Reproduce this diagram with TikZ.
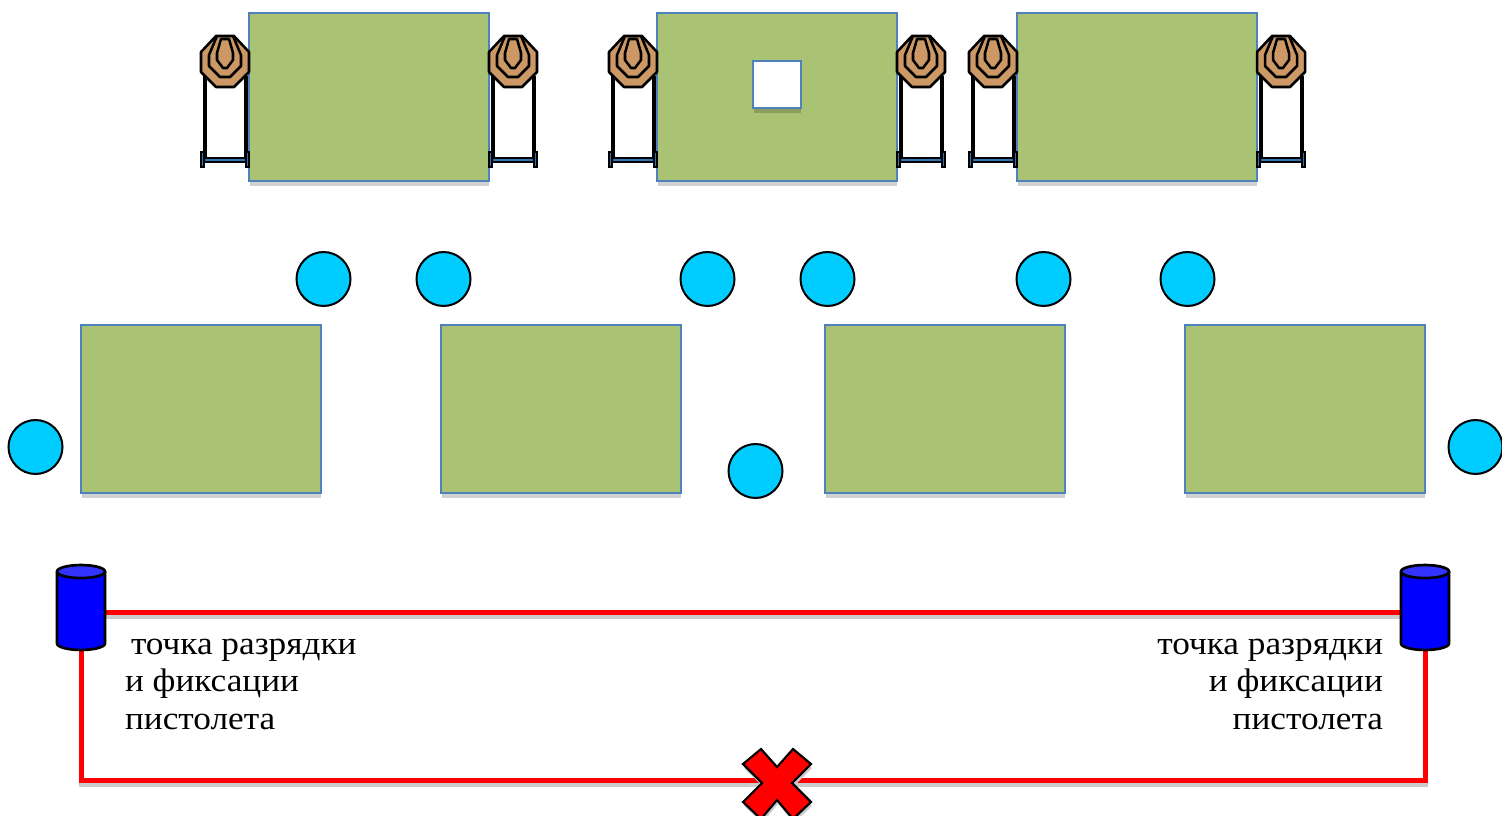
\documentclass[tikz,border=0pt]{standalone}
\usepackage{fontspec}
\setmainfont[FakeStretch=1.08]{Liberation Serif}
\definecolor{padgreen}{HTML}{A9C274}
\definecolor{padblue}{HTML}{4F81BD}
\definecolor{dotblue}{HTML}{00CCFF}
\definecolor{tan1}{HTML}{CC9966}
\definecolor{drumtop}{HTML}{3333FF}
\definecolor{basesteel}{HTML}{2E75B6}
\tikzset{
  x=.75pt,y=-.75pt,
  padbox/.style={rectangle,draw=padblue,line width=1.4pt,fill=padgreen,inner sep=0pt,outer sep=0pt,
    minimum width=180pt,minimum height=126pt},
  windowbox/.style={rectangle,draw=padblue,line width=1.4pt,fill=white,inner sep=0pt,outer sep=0pt,
    minimum width=36pt,minimum height=35.25pt},
  shade strip/.style={fill=black,fill opacity=.18},
  dot/.style={circle,draw=black,line width=1.5pt,fill=dotblue,inner sep=0pt,outer sep=0pt,minimum size=40.5pt},
  drumbox/.style={rectangle,inner sep=0pt,outer sep=0pt,minimum width=36pt,minimum height=63.75pt},
  drumline/.style={draw=black,line width=2pt,line join=round},
  rope/.style={draw=red,line width=3.75pt,line join=miter,
    preaction={draw=black!20,line width=3.75pt,transform canvas={yshift=-3.2pt}}},
  lbl/.style={inner sep=0pt,outer sep=0pt,font=\fontsize{24.5}{28.1}\selectfont},
  ink/.style={draw=black,line width=1.9pt,line join=round},
  post/.style={draw=black,line width=3pt},
  target/.pic={
    % legs
    \draw[post] (3.5,40) -- (3.5,125);
    \draw[post] (44.5,40) -- (44.5,125);
    % base
    \draw[black,line width=4.4pt] (1,124) -- (47,124);
    \draw[basesteel,line width=1.3pt] (1,124) -- (47,124);
    \fill[black] (-1,115) rectangle (4,132);
    \fill[black] (44,115) rectangle (49,132);
    \draw[basesteel,line width=1.1pt] (1.5,117) -- (1.5,130);
    \draw[basesteel,line width=1.1pt] (46.5,117) -- (46.5,130);
    % plate
    \draw[ink,fill=tan1] (15,0) -- (33,0) -- (48,16) -- (48,36) -- (33,51) -- (15,51) -- (0,36) -- (0,16) -- cycle;
    \draw[ink] (16,0) -- (8,19) -- (8,30) -- (19,41) -- (29,41) -- (40,30) -- (40,19) -- (32,0);
    \draw[ink] (20,3) -- (16,17) -- (16,24) -- (22,32) -- (26,32) -- (32,24) -- (32,17) -- (28,3) -- cycle;
  }
}
\newcommand{\drumshape}[1]{%
  \path[drumline,fill=blue] ([yshift=-4.9pt]#1.north west) -- ([yshift=4.9pt]#1.south west)
     arc[x radius=24,y radius=6.5,start angle=180,end angle=0]
     -- ([yshift=-4.9pt]#1.north east) -- cycle;
  \path[drumline,fill=drumtop] ([yshift=-4.9pt]#1.north) ellipse[x radius=24,y radius=6.5];
}
\newcommand{\undershade}[1]{%
  \fill[shade strip] ([xshift=.7pt,yshift=-.7pt]#1.south west) rectangle ([yshift=-3.75pt]#1.south east);
}
\begin{document}
\begin{tikzpicture}
\useasboundingbox (0,0) rectangle (1502,816);
\clip (0,0) rectangle (1502,816);

% upper pads
\node[padbox] (p1) at (369,97) {};
\node[padbox] (p2) at (777,97) {};
\node[padbox] (p3) at (1137,97) {};
\node[windowbox] (win) at (777,84.5) {};

% lower pads
\node[padbox] (p4) at (201,409) {};
\node[padbox] (p5) at (561,409) {};
\node[padbox] (p6) at (945,409) {};
\node[padbox] (p7) at (1305,409) {};

\foreach \n in {p1,p2,p3,win,p4,p5,p6,p7} {\undershade{\n}}

% targets
\foreach \tx in {201,489,609,897,969,1257}
  \pic at (\tx,36) {target};

% positions
\node[dot] (d1) at (323.5,279) {};
\node[dot] (d2) at (443.5,279) {};
\node[dot] (d3) at (707.5,279) {};
\node[dot] (d4) at (827.5,279) {};
\node[dot] (d5) at (1043.5,279) {};
\node[dot] (d6) at (1187.5,279) {};
\node[dot] (d7) at (35.5,447) {};
\node[dot] (d8) at (755.5,471) {};
\node[dot] (d9) at (1475.5,447) {};

% fixed points and cross anchors
\node[drumbox] (cl) at (81,607.5) {};
\node[drumbox] (cr) at (1425,607.5) {};
\node[inner sep=0pt,outer sep=0pt,minimum size=1pt] (xm) at (777,780) {};

% ropes
\draw[rope] ([yshift=-3.4pt]cl.east) -- ([yshift=-3.4pt]cr.west);
\draw[rope] (cl.south) |- (xm.center) -| (cr.south);

% cross
\fill[black!20] (778,771) -- (794,753) -- (812,768) -- (793,787) -- (812,806) -- (794,823) -- (778,804) -- (762,823) -- (744,806) -- (763,787) -- (744,768) -- (762,753) -- cycle;
\draw[draw=black,line width=1.6pt,fill=red,line join=miter] (777,767) -- (793,749) -- (811,764) -- (792,783) -- (811,802) -- (793,819) -- (777,800) -- (761,819) -- (743,802) -- (762,783) -- (743,764) -- (761,749) -- cycle;

% drums
\drumshape{cl}
\drumshape{cr}

% labels
\node[lbl,align=left,anchor=north west] (tl) at (125,639) {\hspace*{4.5pt}точка разрядки\\и фиксации\\пистолета};
\node[lbl,align=right,anchor=north east] (tr) at (1383,639) {точка разрядки\\и фиксации\\пистолета};
\end{tikzpicture}
\end{document}
